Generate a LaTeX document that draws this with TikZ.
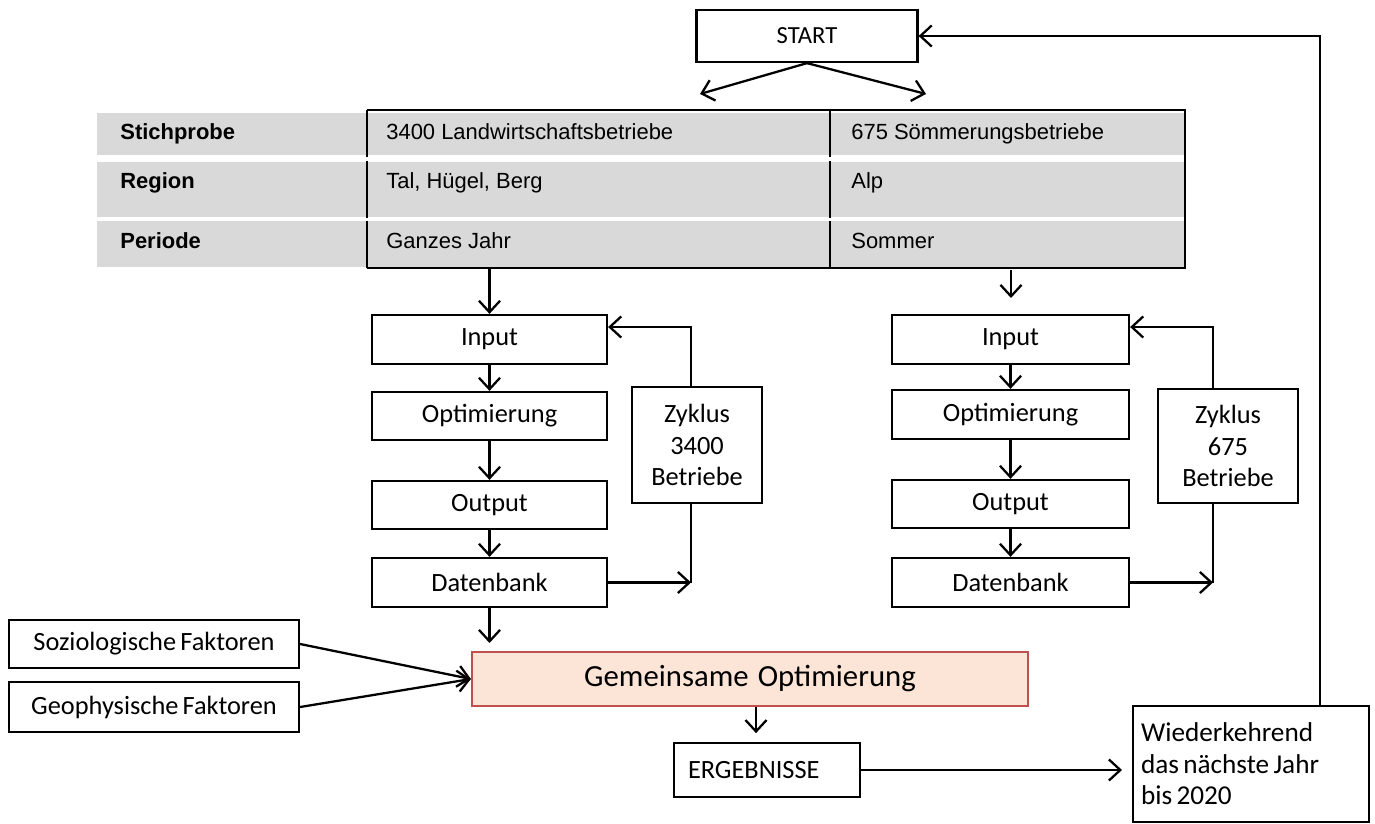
\documentclass[tikz,border=0pt]{standalone}
\usepackage{fontspec}
\setmainfont{Carlito}[WordSpace=0.7]
\newfontfamily\arialfont{Liberation Sans}
\usepackage{tikz}
\usetikzlibrary{arrows.meta,calc,positioning}
\tikzstyle{box}=[draw=black, line width=1.3pt, inner sep=0pt, font=\fontsize{15}{18}\selectfont]
\tikzstyle{l1}=[line width=1.3pt]
\tikzstyle{arr}=[line width=1.3pt, -{Straight Barb[length=6.5pt,width=12pt]}]
\tikzstyle{tab}=[anchor=base west, inner sep=0pt, font=\arialfont\fontsize{12.5}{15}\selectfont]
\tikzstyle{tabb}=[anchor=base west, inner sep=0pt, font=\arialfont\bfseries\fontsize{12.5}{15}\selectfont]
\definecolor{mgray}{HTML}{D9D9D9}
\definecolor{mfill}{HTML}{FCE4D6}
\definecolor{mred}{HTML}{C0504D}

\begin{document}
\begin{tikzpicture}[x=0.02cm, y=-0.02cm]
    \useasboundingbox (0,0) rectangle (1375,824);

    % table
    \fill[mgray] (97,113) rectangle (1185,155);
    \fill[mgray] (97,162) rectangle (1185,217);
    \fill[mgray] (97,221) rectangle (1185,267);
    \draw[l1] (367,110) -- (1185,110) -- (1185,268) -- (367,268);
    \foreach \ya/\yb in {110/157, 161/218, 221/268} {
        \draw[l1] (367,\ya) -- (367,\yb);
        \draw[l1] (830,\ya) -- (830,\yb);
    }
    \node[tabb] at (120,140) (r1) {Stichprobe};
    \node[tabb] at (120,189) (r2) {Region};
    \node[tabb] at (120,248) (r3) {Periode};
    \node[tab] at (386,140) (a1) {3400 Landwirtschaftsbetriebe};
    \node[tab] at (386,189) (a2) {Tal, Hügel, Berg};
    \node[tab] at (386,248) (a3) {Ganzes Jahr};
    \node[tab] at (851,140) (b1) {675 Sömmerungsbetriebe};
    \node[tab] at (851,189) (b2) {Alp};
    \node[tab] at (851,248) (b3) {Sommer};

    \node[box, minimum width=4.42cm, minimum height=1.04cm, font=\fontsize{14}{17}\selectfont] at (807,36) (s) {START};

    % left column
    \node[box, minimum width=4.7cm, minimum height=0.98cm] at (489.5,339.5) (i1) {Input};
    \node[box, minimum width=4.7cm, minimum height=0.96cm] at (489.5,416) (p1) {Optimierung};
    \node[box, minimum width=4.7cm, minimum height=0.96cm] at (489.5,505) (o1) {Output};
    \node[box, minimum width=4.7cm, minimum height=0.98cm] at (489.5,582.5) (d1) {Datenbank};
    \node[box, minimum width=2.6cm, minimum height=2.32cm, align=center] at (697,445) (z1) {Zyklus\\3400\\Betriebe};

    % right column
    \node[box, minimum width=4.74cm, minimum height=0.98cm] at (1010.5,339.5) (i2) {Input};
    \node[box, minimum width=4.74cm, minimum height=0.98cm] at (1010.5,414.5) (p2) {Optimierung};
    \node[box, minimum width=4.74cm, minimum height=0.96cm] at (1010.5,504) (o2) {Output};
    \node[box, minimum width=4.74cm, minimum height=0.98cm] at (1010.5,582.5) (d2) {Datenbank};
    \node[box, minimum width=2.8cm, minimum height=2.28cm, align=center] at (1228,446) (z2) {Zyklus\\675\\Betriebe};

    % bottom
    \node[box, minimum width=5.8cm, minimum height=0.96cm] at (154,644) (soz) {Soziologische Faktoren};
    \node[box, minimum width=5.8cm, minimum height=1.0cm] at (154,707) (geo) {Geophysische Faktoren};
    \node[box, draw=mred, fill=mfill, minimum width=11.12cm, minimum height=1.08cm, font=\fontsize{17.5}{21}\selectfont] at (750,679) (gem) {Gemeinsame\hspace{0.3em}Optimierung};
    \node[box, minimum height=1.08cm, text width=3.16cm, inner xsep=0.28cm, align=flush left] at (767,770) (erg) {ERGEBNISSE};
    \node[box, minimum height=2.32cm, text width=4.4cm, inner xsep=0.16cm, align=flush left, font=\fontsize{15.5}{18}\selectfont] at (1251,764) (wied) {Wiederkehrend\\das nächste Jahr\\bis 2020};

    \coordinate (sl) at (700,94);
    \coordinate (sr) at (926,94);
    \coordinate (t1) at (489.5,268);
    \coordinate (t2) at (1011,270);
    \coordinate (e2) at (1011,298);
    \coordinate (g1) at (489.5,643);
    \coordinate (e1) at (1122,770);
    \coordinate (z1n) at ([xshift=-0.12cm]z1.north);
    \coordinate (z1s) at ([xshift=-0.12cm]z1.south);
    \coordinate (z2n) at ([xshift=-0.3cm]z2.north);
    \coordinate (z2s) at ([xshift=-0.3cm]z2.south);

    \draw[arr] (s.south) -- (sl);
    \draw[arr] (s.south) -- (sr);
    \draw[arr] (t1) -- (i1.north);
    \draw[arr] (t2) -- (e2);

    \draw[arr] (i1) -- (p1);
    \draw[arr] (p1) -- (o1);
    \draw[arr] (o1) -- (d1);
    \draw[arr] (z1n) |- ([yshift=0.25cm]i1.east);
    \draw[l1] (z1s) -- (z1s |- d1.east);
    \draw[arr] (d1.east) -- (z1s |- d1.east);

    \draw[arr] (i2) -- (p2);
    \draw[arr] (p2) -- (o2);
    \draw[arr] (o2) -- (d2);
    \draw[arr] (z2n) |- ([yshift=0.25cm]i2.east);
    \draw[l1] (z2s) -- (z2s |- d2.east);
    \draw[arr] (d2.east) -- (z2s |- d2.east);

    \draw[arr] (d1.south) -- (g1);
    \draw[arr] (soz.east) -- (gem.west);
    \draw[arr] (geo.east) -- (gem.west);
    \draw[arr] ([xshift=0.12cm]gem.south) -- ++(0,26);
    \draw[arr] (erg.east) -- (e1);
    \draw[arr] ([xshift=1.38cm]wied.north) |- (s.east);

\end{tikzpicture}
\end{document}
